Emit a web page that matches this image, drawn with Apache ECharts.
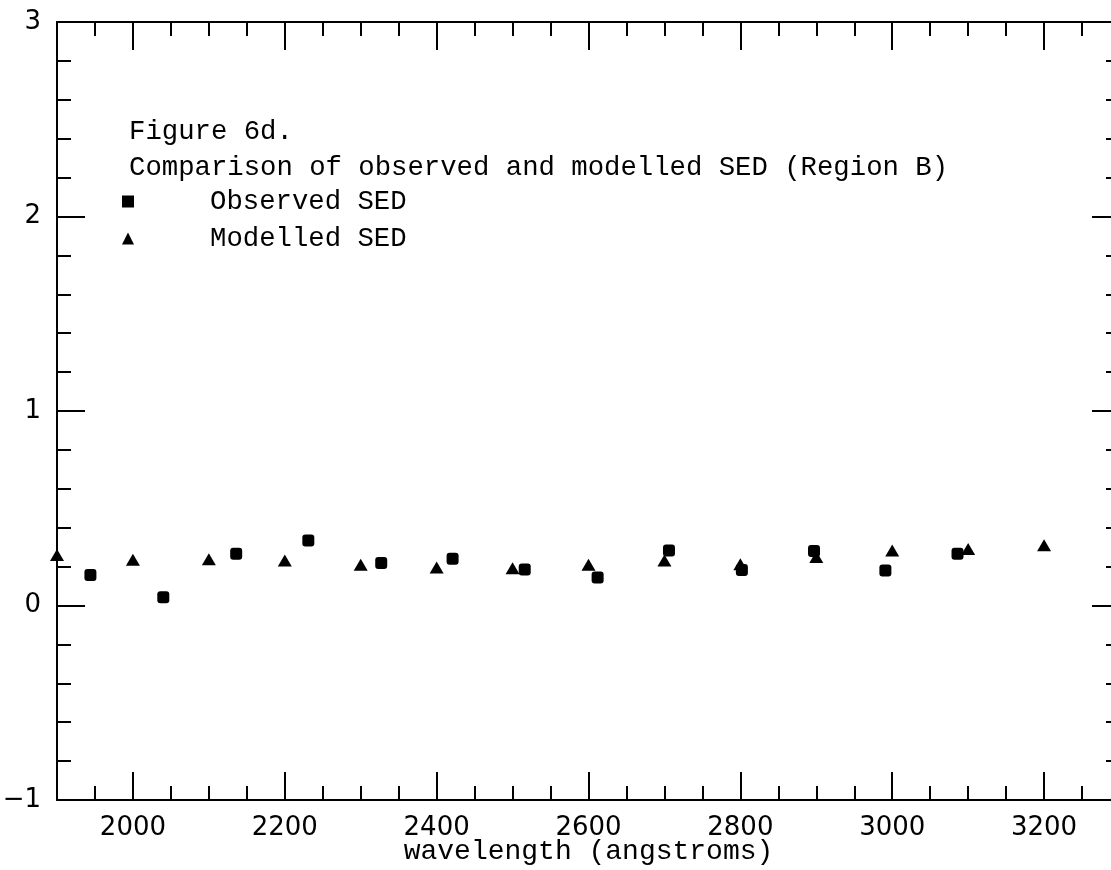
<!DOCTYPE html>
<html>
<head>
<meta charset="utf-8">
<script src="https://cdn.jsdelivr.net/npm/echarts@6/dist/echarts.min.js"></script>
<style>
html,body{margin:0;padding:0;background:#fff;overflow:hidden;}
#chart{width:1111px;height:870px;}
</style>
</head>
<body>
<div id="chart"></div>
<script>
// ---- data ----
const observedWavelength = [1944, 2040, 2136, 2231, 2327, 2421, 2516, 2612, 2706, 2802, 2897, 2991, 3086];
const observedFlux       = [0.157, 0.043, 0.266, 0.334, 0.218, 0.240, 0.185, 0.144, 0.283, 0.183, 0.280, 0.180, 0.266];
const modelWavelength    = [1900, 2000, 2100, 2200, 2300, 2400, 2500, 2600, 2700, 2800, 2900, 3000, 3100, 3200];
const modelFlux          = [0.260, 0.235, 0.238, 0.231, 0.209, 0.195, 0.192, 0.209, 0.231, 0.212, 0.250, 0.283, 0.290, 0.310];
const xMajorTicks        = [2000, 2200, 2400, 2600, 2800, 3000, 3200];
const figureLabel        = 'Figure 6d.';
const figureCaption      = 'Comparison of observed and modelled SED (Region B)';
const seriesNames        = ['Observed SED', 'Modelled SED'];
const xAxisTitle         = 'wavelength (angstroms)';

const observedData = observedWavelength.map((w, i) => [w, observedFlux[i]]);
const modelData = modelWavelength.map((w, i) => [w, modelFlux[i]]);

const X_MIN = 1900, X_MAX = 3300, Y_MIN = -1, Y_MAX = 3;
const lineStyle = {color: '#000', width: 2};
const monoFont = '"Liberation Mono", "DejaVu Sans Mono", monospace';
const sansFont = '"DejaVu Sans", sans-serif';

function minorX(pos) {
  return {
    type: 'value', position: pos, min: X_MIN, max: X_MAX, interval: 50,
    axisLine: {show: true, onZero: false, lineStyle},
    axisTick: {show: true, inside: true, length: 14, lineStyle},
    axisLabel: {show: false}, splitLine: {show: false}
  };
}
function majorX(pos, withLabels) {
  const ax = {
    type: 'value', position: pos, min: X_MIN, max: X_MAX,
    axisLine: {show: false, onZero: false},
    axisTick: {show: true, inside: true, length: 28, customValues: xMajorTicks, lineStyle},
    axisLabel: withLabels ? {show: true, customValues: xMajorTicks, margin: 15,
      color: '#000', fontFamily: sansFont, fontSize: 26, formatter: v => String(v)} : {show: false},
    splitLine: {show: false}
  };
  if (withLabels) {
    ax.name = xAxisTitle;
    ax.nameLocation = 'middle';
    ax.nameGap = 38;
    ax.nameMoveOverlap = false;
    ax.nameTextStyle = {color: '#000', fontFamily: monoFont, fontSize: 28};
  }
  return ax;
}
function yAx(pos, withLabels) {
  return {
    type: 'value', position: pos, min: Y_MIN, max: Y_MAX, interval: 1,
    axisLine: {show: true, onZero: false, lineStyle},
    axisTick: {show: true, inside: true, length: 28, lineStyle},
    minorTick: {show: true, splitNumber: 5, length: 14, lineStyle},
    axisLabel: withLabels ? {show: true, margin: 16, color: '#000', fontFamily: sansFont, fontSize: 26,
      formatter: v => String(v).replace('-', '\u2212')} : {show: false},
    splitLine: {show: false}, minorSplitLine: {show: false}
  };
}

const chart = echarts.init(document.getElementById('chart'), null, {renderer: 'canvas'});
chart.setOption({
  backgroundColor: '#fff',
  animation: false,
  grid: {left: 57, right: -9, top: 22, bottom: 70, containLabel: false, outerBoundsMode: 'none'},
  title: {
    text: figureLabel + '\n' + figureCaption,
    left: 124, top: 109,
    textStyle: {color: '#000', fontFamily: monoFont, fontSize: 27.3, fontWeight: 'normal', lineHeight: 36}
  },
  legend: {
    orient: 'vertical', left: 122, top: 188, padding: 0,
    itemWidth: 12, itemHeight: 12, itemGap: 10,
    selectedMode: false,
    data: [{name: seriesNames[0], icon: 'rect'}, {name: seriesNames[1], icon: 'triangle'}],
    textStyle: {color: '#000', fontFamily: monoFont, fontSize: 27.3, padding: [0, 0, 0, 71]}
  },
  xAxis: [minorX('bottom'), majorX('bottom', true), minorX('top'), majorX('top', false)],
  yAxis: [yAx('left', true), yAx('right', false)],
  series: [
    {
      name: seriesNames[0], type: 'scatter', xAxisIndex: 1, yAxisIndex: 0,
      symbol: 'roundRect', symbolSize: 12, clip: true,
      itemStyle: {color: '#000', opacity: 1}, data: observedData
    },
    {
      name: seriesNames[1], type: 'scatter', xAxisIndex: 1, yAxisIndex: 0,
      symbol: 'triangle', symbolSize: [14, 12], clip: true,
      itemStyle: {color: '#000', opacity: 1}, data: modelData
    }
  ]
});
</script>
</body>
</html>
